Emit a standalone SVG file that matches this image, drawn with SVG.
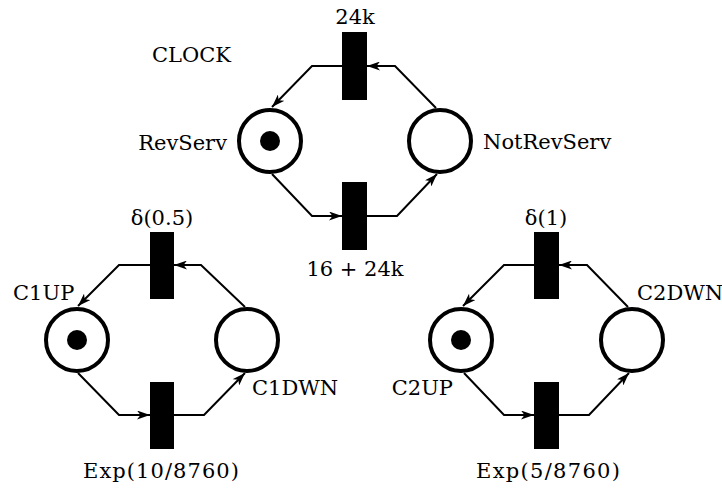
<svg xmlns="http://www.w3.org/2000/svg" width="722" height="489" viewBox="0 0 722 489">
<style>
.place{fill:#fff;stroke:#000;stroke-width:4}
.tok{fill:#000}
.tr{fill:#000}
.arc{fill:none;stroke:#000;stroke-width:2;marker-end:url(#ah)}
text{font-family:"DejaVu Serif","Liberation Serif",serif;font-size:21px;fill:#000}
</style>
<defs>
<marker id="ah" viewBox="0 0 13 9" refX="13" refY="4.5" markerWidth="13" markerHeight="9" markerUnits="userSpaceOnUse" orient="auto">
<path d="M0,0 L13,4.5 L0,9 L3.5,4.5 z" fill="#000"/>
</marker>
</defs>
<g id="connectors">
<path class="arc" d="M436,108 L395,66 L367,66"/>
<path class="arc" d="M342,66 L312,66 L272,107"/>
<path class="arc" d="M272,174 L312,216 L342,216"/>
<path class="arc" d="M367,216 L397,216 L437,174"/>
<path class="arc" d="M245,307 L201,265 L174,265"/>
<path class="arc" d="M150,265 L119,265 L78,306"/>
<path class="arc" d="M78,373 L119,415 L150,415"/>
<path class="arc" d="M174,415 L204,415 L245,373"/>
<path class="arc" d="M628,307 L587,265 L559,265"/>
<path class="arc" d="M534,265 L504,265 L463,306"/>
<path class="arc" d="M464,373 L504,415 L534,415"/>
<path class="arc" d="M559,415 L589,415 L629,373"/>
</g>
<text x="152" y="62">CLOCK</text>
<g id="t_24k"><rect class="tr" x="342" y="32" width="25" height="68"/><text x="355" y="24" text-anchor="middle">24k</text></g>
<g id="t_16_24k"><rect class="tr" x="342" y="182" width="25" height="68"/><text x="355" y="276" text-anchor="middle">16 + 24k</text></g>
<g id="RevServ"><circle class="place" cx="270" cy="141" r="31"/><circle class="tok" cx="270" cy="141" r="10"/><text x="227" y="150" text-anchor="end">RevServ</text></g>
<g id="NotRevServ"><circle class="place" cx="440" cy="141" r="31"/><text x="483" y="149">NotRevServ</text></g>
<g id="t_d05"><rect class="tr" x="150" y="232" width="24" height="67"/><text x="162" y="225" text-anchor="middle">δ(0.5)</text></g>
<g id="t_exp10"><rect class="tr" x="150" y="382" width="24" height="67"/><text x="83" y="478" textLength="156">Exp(10/8760)</text></g>
<g id="C1UP"><circle class="place" cx="77" cy="340" r="31"/><circle class="tok" cx="77" cy="340" r="10"/><text x="13" y="300">C1UP</text></g>
<g id="C1DWN"><circle class="place" cx="247" cy="340" r="31"/><text x="252" y="395">C1DWN</text></g>
<g id="t_d1"><rect class="tr" x="534" y="232" width="25" height="67"/><text x="546" y="225" text-anchor="middle">δ(1)</text></g>
<g id="t_exp5"><rect class="tr" x="534" y="382" width="25" height="67"/><text x="476" y="478" textLength="144">Exp(5/8760)</text></g>
<g id="C2UP"><circle class="place" cx="461" cy="340" r="31"/><circle class="tok" cx="461" cy="340" r="10"/><text x="453" y="395" text-anchor="end">C2UP</text></g>
<g id="C2DWN"><circle class="place" cx="632" cy="340" r="31"/><text x="637" y="300">C2DWN</text></g>
</svg>
